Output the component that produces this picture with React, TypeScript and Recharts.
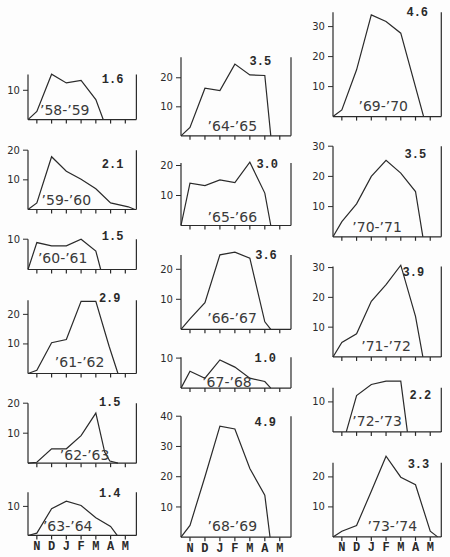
import { LineChart, Line, XAxis, YAxis, ReferenceLine, ReferenceDot } from "recharts";

type Pt = [number, number];

// x: month position (N = 0 ... M = 6), y: weekly count
const months = ["N", "D", "J", "F", "M", "A", "M"];
const monthTicks = [0, 1, 2, 3, 4, 5, 6];

const s5859: Pt[] = [[-0.6, 0], [0, 2.8], [1, 15.5], [2, 12.5], [3, 13.4], [4, 6.8], [4.5, 0]];
const s5960: Pt[] = [[-0.6, 0], [0, 2.2], [1, 17.8], [2, 12.9], [3, 10.2], [4, 7.0], [5, 2.2], [6.2, 0.9], [6.65, 0]];
const s6061: Pt[] = [[-0.6, 0], [0, 8.9], [1, 7.8], [2, 7.8], [3, 10], [4, 6.1], [4.33, 0]];
const s6162: Pt[] = [[-0.6, 0], [0, 1.1], [1, 10.4], [2, 11.5], [3, 24.4], [4, 24.4], [4.9, 9.2], [5.5, 0]];
const s6263: Pt[] = [[-0.6, 0], [0, 0.3], [1, 4.8], [2, 4.8], [3, 9.2], [4, 16.7], [4.6, 3.7], [4.95, 0.7], [5.5, 0]];
const s6364: Pt[] = [[-0.6, 0], [0, 0.8], [1, 9.2], [2, 11.8], [3, 10.3], [4, 6.1], [5, 3.1], [5.45, 0]];
const s6465: Pt[] = [[-0.6, 0], [0, 2.9], [1, 16.4], [2, 15.6], [3, 24.7], [4, 21], [5, 20.8], [5.4, 0]];
const s6566: Pt[] = [[-0.6, 0], [0, 14.1], [1, 13.3], [2, 15.2], [3, 14.3], [4, 21.1], [5, 10.8], [5.4, 0]];
const s6667: Pt[] = [[-0.6, 0], [0, 3.5], [1, 8.9], [2, 24.8], [3, 25.7], [4, 23.7], [5, 2.5], [5.4, 0]];
const s6768: Pt[] = [[-0.6, 0], [0, 5.6], [1, 3.3], [2, 9.4], [3, 7], [4, 3.3], [5, 2.2], [5.4, 0]];
const s6869: Pt[] = [[-0.6, 0], [0, 3.9], [1, 20], [2, 36.7], [3, 35.8], [4, 22.7], [5, 13.9], [5.35, 0]];
const s6970: Pt[] = [[-0.6, 0], [0, 2.2], [1, 15.6], [2, 33.9], [3, 31.7], [4, 27.8], [5.55, 0]];
const s7071: Pt[] = [[-0.6, 0], [0, 5], [1, 10.9], [2, 20], [3, 25.3], [4, 21.1], [5, 15], [5.5, 0]];
const s7172: Pt[] = [[-0.6, 0], [0, 4.9], [1, 7.8], [2, 18.7], [3, 24.3], [4, 30.8], [5, 13.6], [5.5, 0]];
const s7273: Pt[] = [[0.3, 0], [1, 12.1], [2, 15.8], [3, 16.9], [4, 16.9], [4.45, 0]];
const s7374: Pt[] = [[-0.6, 0], [0, 1.9], [1, 3.8], [2, 15.2], [3, 26.9], [4, 19.9], [5, 17.4], [6, 1.9], [6.5, 0]];

const series = [s5859, s5960, s6061, s6162, s6263, s6364, s6465, s6566, s6667, s6768, s6869, s6970, s7071, s7172, s7273, s7374];
const seasons = ["’58-’59", "’59-’60", "’60-’61", "’61-’62", "’62-’63", "’63-’64", "’64-’65", "’65-’66", "’66-’67", "’67-’68", "’68-’69", "’69-’70", "’70-’71", "’71-’72", "’72-’73", "’73-’74"];
const totals = ["1.6", "2.1", "1.5", "2.9", "1.5", "1.4", "3.5", "3.0", "3.6", "1.0", "4.9", "4.6", "3.5", "3.9", "2.2", "3.3"];

// layout of the small multiples (page pixels) and label anchors (data units)
const columns = [
  { left: 28.3, width: 108.4 },
  { left: 180.7, width: 110 },
  { left: 332.7, width: 108.3 },
];
const panels = [
  { col: 0, base: 120, ppu: 2.93, top: 15.4, seasonAt: [1.89, 1.7], totalAt: [5.14, 13.6] },
  { col: 0, base: 209.3, ppu: 2.965, top: 20, seasonAt: [2.0, 1.45], totalAt: [5.14, 14.9] },
  { col: 0, base: 269.3, ppu: 3.03, top: 10, seasonAt: [1.75, 2.1], totalAt: [5.14, 10.7] },
  { col: 0, base: 373.3, ppu: 2.956, top: 24.8, seasonAt: [2.9, 2.1], totalAt: [4.94, 25.1] },
  { col: 0, base: 462.7, ppu: 3.0, top: 20, seasonAt: [3.24, 0.9], totalAt: [4.94, 19.9] },
  { col: 0, base: 535, ppu: 2.906, top: 14.9, seasonAt: [2.09, 1.4], totalAt: [4.94, 14.4], months: true },
  { col: 1, base: 136, ppu: 2.904, top: 27.1, seasonAt: [2.83, 1.8], totalAt: [4.7, 25.5] },
  { col: 1, base: 225.7, ppu: 3.0, top: 20.8, seasonAt: [2.83, 1.33], totalAt: [5.16, 20.2] },
  { col: 1, base: 329.3, ppu: 3.0, top: 24.8, seasonAt: [2.81, 2.1], totalAt: [5.08, 24.4] },
  { col: 1, base: 388.3, ppu: 3.0, top: 10.3, seasonAt: [2.47, 0.53], totalAt: [5.03, 9.8] },
  { col: 1, base: 537.7, ppu: 3.025, top: 40, seasonAt: [2.83, 1.9], totalAt: [5.03, 37.6], months: true },
  { col: 2, base: 116.7, ppu: 3.0, top: 34.8, seasonAt: [2.81, 1.9], totalAt: [5.12, 34.6] },
  { col: 2, base: 236.7, ppu: 3.02, top: 30, seasonAt: [2.39, 1.66], totalAt: [4.99, 27.0] },
  { col: 2, base: 357.3, ppu: 2.98, top: 30.4, seasonAt: [3.0, 1.9], totalAt: [4.85, 28.3] },
  { col: 2, base: 432.3, ppu: 3.0, top: 14.7, seasonAt: [2.39, 2.1], totalAt: [5.33, 12.1] },
  { col: 2, base: 537.3, ppu: 3.0, top: 24.7, seasonAt: [3.43, 1.87], totalAt: [5.2, 24.1], months: true },
];

const X_MIN = -0.6;
const X_MAX = 6.75;
const INK = "#2a2a2a";

const Tag = (props: any) => {
  const vb = props.viewBox || props;
  if (props.kind === "total") {
    return (
      <text x={vb.x} y={vb.y} textAnchor="middle" dominantBaseline="central"
        fontFamily="Liberation Mono" fontWeight="bold" fontSize={12} fill={INK}>
        {props.text}
      </text>
    );
  }
  return (
    <text x={vb.x} y={vb.y} textAnchor="middle" fontFamily="DejaVu Sans"
      fontSize={14} fill="#3a3a3a">
      {props.text}
    </text>
  );
};

const Panel = ({ idx }: { idx: number }) => {
  const p = panels[idx];
  const col = columns[p.col];
  const rows = series[idx].map(([m, v]) => ({ m, v }));
  const maxV = Math.max(...rows.map((r) => r.v));
  const D = Math.max(p.top, maxV) + 0.4;
  const plotH = D * p.ppu;
  const mt = 14;
  const xh = p.months ? 22 : 8;
  const yTicks = [10, 20, 30, 40].filter((t) => t <= p.top + 0.01);
  return (
    <div style={{ position: "absolute", left: col.left - 30, top: p.base - plotH - mt }}>
      <LineChart
        width={30 + col.width + 12}
        height={mt + plotH + xh}
        data={rows}
        margin={{ top: mt, right: 12, left: 0, bottom: 0 }}
      >
        <XAxis
          type="number"
          dataKey="m"
          domain={[X_MIN, X_MAX]}
          ticks={monthTicks}
          interval={0}
          height={xh}
          tickSize={4}
          tickMargin={2}
          stroke={INK}
          strokeWidth={1.2}
          tickFormatter={(v: number) => (p.months ? months[v] : "")}
          tick={{ fontSize: 12, fontFamily: "Liberation Mono", fontWeight: "bold", fill: INK }}
        />
        <YAxis
          type="number"
          domain={[0, D]}
          ticks={yTicks}
          interval={0}
          width={30}
          axisLine={false}
          tickSize={5}
          tickMargin={3}
          stroke={INK}
          tick={{ fontSize: 10, fontFamily: "DejaVu Sans", fill: INK }}
        />
        <ReferenceLine
          segment={[{ x: X_MIN, y: 0 }, { x: X_MIN, y: p.top }]}
          stroke={INK}
          strokeWidth={1.2}
          ifOverflow="visible"
        />
        <ReferenceLine
          segment={[{ x: X_MAX, y: 0 }, { x: X_MAX, y: p.top }]}
          stroke={INK}
          strokeWidth={1.2}
          ifOverflow="visible"
        />
        <Line
          type="linear"
          dataKey="v"
          stroke={INK}
          strokeWidth={1.2}
          dot={false}
          isAnimationActive={false}
        />
        <ReferenceDot
          x={p.seasonAt[0]}
          y={p.seasonAt[1]}
          r={0}
          ifOverflow="visible"
          label={<Tag kind="season" text={seasons[idx]} />}
        />
        <ReferenceDot
          x={p.totalAt[0]}
          y={p.totalAt[1]}
          r={0}
          ifOverflow="visible"
          label={<Tag kind="total" text={totals[idx]} />}
        />
      </LineChart>
    </div>
  );
}

export default function App() {
  return (
    <div style={{ position: "absolute", left: 0, top: 0, width: 450, height: 557, background: "#fdfdfd", overflow: "hidden" }}>
      {panels.map((_, i) => (
        <Panel key={i} idx={i} />
      ))}
    </div>
  );
}
